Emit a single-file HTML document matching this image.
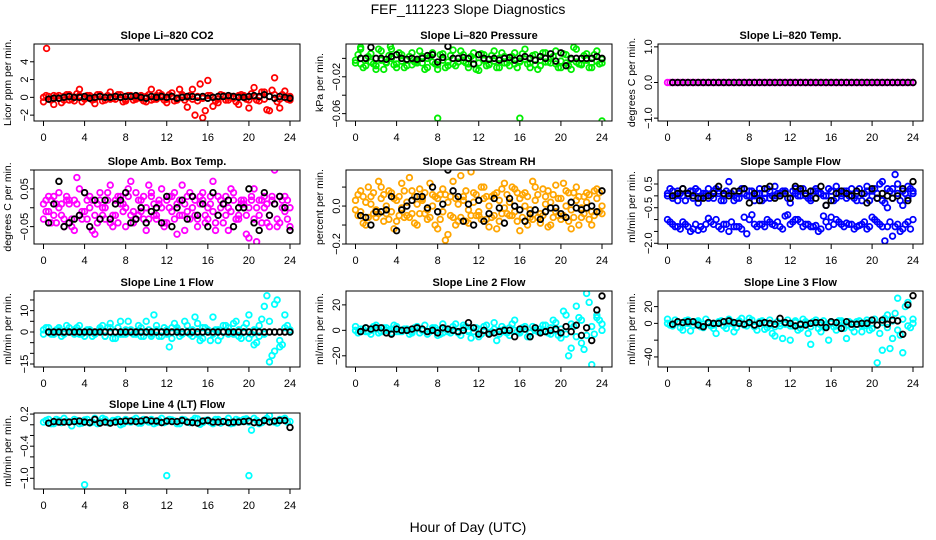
<!DOCTYPE html>
<html><head><meta charset="utf-8"><style>
html,body{margin:0;padding:0;background:#fff;}
svg{display:block;font-family:"Liberation Sans",sans-serif;}
</style></head><body>
<svg id="chart" width="936" height="540" viewBox="0 0 936 540" xmlns="http://www.w3.org/2000/svg">
<text x="468" y="14" text-anchor="middle" font-size="14">FEF_111223  Slope Diagnostics</text>
<text x="468" y="532" text-anchor="middle" font-size="14">Hour of Day (UTC)</text>
</svg>
<script>
const xTicks=[0,4,8,12,16,20,24];
const co2A=[-0.5,0.1,-0.8,0.2,-0.3,0.3,-0.4,0.9,-0.2,0.2,-0.7,0.1,-0.3,0.6,-0.2,0.3,-0.4,0.1,-0.2,0.2,-0.5,0.9,-0.2,0.3,-0.6,0.5,-0.3,0.2,-1.1,0.9,-0.4,-2.3,1.9,-1.0,-0.6,0.2,-0.3,0.1,-0.8,0.2,-1.2,1.1,-0.4,0.6,-1.5,2.2,-1.2,0.7,-0.3];
const co2B=[0.2,-0.3,0.1,-0.6,0.3,-0.2,0.4,-0.5,0.2,-0.3,0.3,-0.4,0.2,-0.1,0.3,-0.5,0.2,-0.3,0.1,-0.4,0.3,-0.2,0.5,-0.3,0.3,-0.4,0.9,-0.3,0.2,-2.0,1.5,-1.5,0.2,-0.4,0.3,-0.3,0.1,-0.5,0.3,-0.2,0.4,-0.3,0.6,-1.4,0.8,-0.5,0.3,-0.2];
const co2C=[0,-0.2,0.2,-0.1,0.1,-0.3,0,0.2,-0.1,0.1,-0.2,0.3,0,-0.2,0.1,0,-0.2,0.2,0,-0.1,0.1,-0.3,0.2,0,-0.2,0.1,-0.1,0.3,0,-0.2,0.1,-0.1,0.2,0,-0.2,0.1,0,-0.1,0.2,0,-0.3,0.1,0,-0.2,0.1,0.3,-0.2,0,0.1];
const co2Out=[[0.3,5.5]];
const co2Black=[-0.2,-0.1,-0.1,0,0.1,0,0,0.1,-0.1,0,0.1,0,0,0.1,0,0.1,0.1,0.2,0,-0.1,0.1,0,0.1,0,0.1,-0.1,0,0.1,0.1,0,0.1,-0.1,0,0.1,0.1,0.2,0.1,0,0,0.1,0.2,0.1,0.3,0.1,-0.1,0.1,0,-0.1];
const presA=[-0.005,0.01,-0.008,0.005,-0.012,0.008,-0.004,0.01,-0.01,0.004,-0.008,0.006,-0.005,0.002,-0.01,0.006,-0.012,0.005,-0.008,0.009,-0.004,0.004,-0.01,0.006,-0.013,0.004,-0.006,0.008,-0.01,0.002,-0.008,0.006,-0.004,0.01,-0.01,0.004,-0.008,0.006,-0.005,0.008,-0.01,0.004,-0.012,0.01,-0.006,0.005,-0.01,0.008,-0.005];
const presB=[0.004,-0.01,0.002,-0.006,0.01,-0.012,0.003,-0.007,0.006,-0.01,0.002,-0.004,0.008,-0.012,0.002,-0.006,0.004,-0.01,0.003,-0.008,0.008,-0.005,0.002,-0.012,0.005,-0.008,0.003,-0.01,0.006,-0.005,0.002,-0.01,0.005,-0.006,0.003,-0.012,0.006,-0.004,0.002,-0.01,0.005,-0.008,0.012,-0.006,0.003,-0.01,0.004,-0.006];
const presC=[-0.002,-0.006,0,-0.004,-0.008,-0.002,-0.005,0,-0.006,-0.003,-0.001,-0.007,-0.003,-0.005,0,-0.004,-0.007,-0.002,-0.004,-0.006,0,-0.003,-0.006,-0.001,-0.005,-0.002,-0.007,-0.003,0,-0.005,-0.002,-0.006,-0.003,-0.001,-0.005,-0.007,-0.002,-0.004,0,-0.006,-0.003,-0.005,-0.001,-0.004,-0.007,-0.002,-0.005,-0.003,-0.001];
const presOut=[[8,-0.065],[16,-0.065],[24,-0.068],[0.5,0.012],[3.4,0.013]];
const presBlack=[0,0,0.012,0,0,-0.001,0.002,0.004,0,-0.001,0,-0.001,0,0.003,0.004,-0.004,0.001,0.013,0,0,0.001,0,-0.006,0.004,0,-0.001,0,-0.002,0,0.001,-0.002,0,0.002,0,-0.002,0.002,0,0.005,-0.003,0.006,-0.008,0,0,0,0,0,0.002,0];
const tempA=[0,0,0,0,0,0,0,0,0,0,0,0,0,0,0,0,0,0,0,0,0,0,0,0,0,0,0,0,0,0,0,0,0,0,0,0,0,0,0,0,0,0,0,0,0,0,0,0,0];
const tempB=[0,0,0,0,0,0,0,0,0,0,0,0,0,0,0,0,0,0,0,0,0,0,0,0,0,0,0,0,0,0,0,0,0,0,0,0,0,0,0,0,0,0,0,0,0,0,0,0];
const tempBlack=[0,0,0,0,0,0,0,0,0,0,0,0,0,0,0,0,0,0,0,0,0,0,0,0,0,0,0,0,0,0,0,0,0,0,0,0,0,0,0,0,0,0,0,0,0,0,0,0];
const ambA=[-0.03,0.03,-0.02,0.04,-0.05,0.02,-0.06,0.05,-0.01,0.03,-0.07,0.04,-0.03,0.06,-0.02,0.01,-0.05,0.07,-0.03,0.02,-0.06,0.04,-0.02,0.05,-0.04,0.03,-0.07,0.06,-0.01,0.03,-0.05,0.04,-0.03,0.07,-0.02,0.01,-0.06,0.04,-0.03,0.02,-0.08,0.05,-0.02,0.03,-0.05,0.1,-0.04,0.03,-0.05];
const ambB=[0.02,-0.04,0.01,-0.02,0.03,-0.05,0.08,-0.03,0.02,-0.06,0.01,-0.02,0.04,-0.05,0.03,-0.01,0.05,-0.04,0.02,-0.03,0.06,-0.02,0.01,-0.05,0.03,-0.03,0.02,-0.06,0.04,-0.02,0.01,-0.04,0.03,-0.06,0.02,-0.02,0.05,-0.03,0.01,-0.07,0.03,-0.09,0.02,-0.04,0.03,-0.05,0.02,-0.03];
const ambC=[0.01,-0.01,0.03,0,-0.03,0.01,0.02,-0.02,0.04,0,-0.02,0.02,0,-0.04,0.02,0.03,0,-0.02,0.04,-0.01,0,0.03,-0.03,0,0.02,-0.01,0.01,-0.02,0.03,0,-0.03,0.02,0,-0.01,0.03,-0.04,0,0.02,-0.02,0.01,0,-0.03,0.02,0,-0.02,0.01,0.03,-0.01,0];
const ambD=[-0.01,0.02,-0.04,0.01,0.02,-0.03,0.01,-0.01,-0.03,0.02,-0.04,0,0.02,-0.02,-0.04,0.01,0.03,-0.01,-0.02,0.03,-0.03,0.01,0.02,-0.04,0,0.04,-0.02,0.01,-0.03,0.02,0.03,-0.02,0.01,-0.04,0,0.03,-0.01,-0.03,0.02,-0.02,0.02,0,-0.04,0.01,0.02,-0.03,0,0.02];
const ambBlack=[-0.04,0.01,0.07,-0.05,-0.04,-0.03,-0.02,0.04,-0.05,0.02,-0.03,0.02,-0.03,0.01,0.02,0.04,-0.04,-0.03,0,-0.04,-0.01,0,-0.04,0.03,-0.05,0,0.02,-0.03,0.03,-0.02,0.01,-0.05,0.04,-0.02,0.01,0.02,-0.05,0,0,0.05,-0.04,-0.06,0.04,-0.02,0.01,0.03,0,-0.06];
const rhA=[-0.02,0.08,-0.1,0.05,-0.06,0.1,-0.04,0.07,-0.08,0.12,-0.05,0.08,-0.1,0.04,-0.07,0.06,-0.12,0.09,-0.15,0.13,-0.08,0.03,-0.09,0.07,-0.05,0.1,-0.11,0.06,-0.08,0.12,-0.05,0.09,-0.13,0.07,-0.06,0.1,-0.09,0.05,-0.1,0.11,-0.07,0.08,-0.12,0.1,-0.06,0.07,-0.1,0.09,-0.04];
const rhB=[0.06,-0.09,0.1,-0.04,0.13,-0.08,0.08,-0.12,0.05,-0.06,0.15,-0.09,0.09,-0.04,0.12,-0.1,0.06,-0.18,0.05,-0.1,0.16,-0.08,0.18,-0.05,0.1,-0.07,0.05,-0.12,0.09,-0.04,0.1,-0.08,0.06,-0.1,0.13,-0.06,0.09,-0.11,0.06,-0.05,0.12,-0.08,0.07,-0.1,0.05,-0.07,0.08,-0.03];
const rhC=[0.03,-0.03,0.02,0.01,-0.02,0.04,0,-0.03,0.03,-0.01,0.02,-0.04,0.01,0.03,-0.02,0,0.04,-0.03,0.02,-0.06,0.01,0.05,-0.02,0.02,-0.03,0.04,0,-0.05,0.03,-0.01,0.02,-0.03,0.04,0,-0.02,0.03,-0.04,0.01,0.02,-0.03,0.04,0,-0.02,0.03,-0.01,0.02,-0.03,0.04,0];
const rhD=[-0.05,0.05,-0.06,0.07,-0.04,0.06,-0.07,0.04,-0.05,0.08,-0.06,0.05,-0.04,0.07,-0.06,0.05,-0.07,0.06,-0.05,0.04,-0.06,0.08,-0.05,0.06,-0.07,0.05,-0.06,0.07,-0.04,0.06,-0.05,0.07,-0.06,0.05,-0.07,0.06,-0.05,0.08,-0.06,0.04,-0.05,0.07,-0.06,0.05,-0.04,0.06,-0.05,0.07];
const rhBlack=[-0.05,-0.06,-0.1,-0.03,-0.03,-0.02,0.05,-0.13,-0.02,0,0.03,0.05,0.05,-0.01,0.1,-0.03,0.01,0.19,0.08,0.05,-0.08,0.01,-0.1,0.03,-0.08,-0.04,0.04,-0.01,-0.09,0.04,0,-0.02,-0.08,-0.04,-0.02,-0.07,-0.03,-0.01,-0.01,-0.04,-0.06,0.02,-0.01,-0.02,-0.01,0,-0.03,0.08];
const sfA=[0,0.2,-0.2,0.3,0,0.2,-0.3,0.1,0.3,-0.1,0.2,0,0.6,-0.2,0.1,0.3,0,-0.2,0.3,0.1,-0.1,0.4,0,0.2,-0.3,0.3,0,0.1,-0.2,0.3,0.1,-0.4,0.2,0.4,0,-0.1,0.3,0.1,-0.2,0.4,0.2,-0.1,0.6,-0.5,0.3,0.5,-0.4,0.4,0.1];
const sfB=[0.3,0,0.1,-0.2,0.2,0.3,-0.1,0.1,0,0.3,-0.2,0.2,0.1,-0.1,0.3,0,0.2,0.1,-0.2,0.3,0,0.1,0.2,-0.1,0.2,0,0.3,-0.1,0.2,0.1,0,0.3,-0.2,0.1,0.2,0,-0.1,0.3,0.1,-0.2,0.3,0.5,-0.3,0.2,0.9,-0.2,0.1,0.3];
const sfC=[0.1,-0.1,0.2,0,0.1,-0.1,0.2,0,-0.1,0.2,0.1,-0.2,0.1,0.2,-0.1,0.1,0.2,0,0.1,-0.1,0.2,0,0.1,0.2,-0.1,0.1,0.2,0,-0.1,0.2,0.1,0,0.2,-0.1,0.1,0.2,0,-0.2,0.1,0.2,0,0.1,-0.2,0.3,-0.1,0.1,0.2,-0.1,0.2];
const sfLow=[-1.0,-1.2,-1.3,-1.1,-1.3,-1.4,-1.45,-1.4,-0.95,-1.2,-1.3,-1.2,-1.5,-1.3,-1.3,-0.9,-1.0,-1.2,-1.2,-1.3,-1.1,-1.25,-1.3,-0.85,-1.2,-1.0,-1.1,-1.2,-1.3,-1.25,-1.4,-1.1,-0.9,-1.0,-1.2,-1.15,-1.2,-1.3,-1.2,-1.4,-0.9,-1.1,-1.3,-1.3,-1.7,-1.2,-1.4,-1.1,-1.0];
const sfLow2=[-1.1,-1.3,-1.4,-1.2,-1.5,-1.2,-1.3,-1.2,-1.1,-1.0,-1.4,-1.2,-1.1,-1.3,-1.4,-1.6,-0.8,-1.3,-1.2,-1.0,-1.2,-1.1,-1.4,-0.8,-1.1,-1.0,-1.3,-1.2,-1.3,-1.5,-0.85,-1.3,-1.2,-1.1,-1.3,-1.2,-1.4,-1.25,-1.1,-1.3,-1.0,-1.2,-1.9,-1.1,-1.3,-1.5,-1.2,-1.4];
const sfBlack=[0,0.1,0.3,0.1,0,-0.1,-0.1,0,0.1,0.4,0.1,0,0.2,0.2,0.3,-0.3,0.1,-0.2,0.3,0.4,-0.1,0,0.1,-0.1,0.4,0.3,0.1,0.2,-0.1,0.4,-0.4,-0.2,0.1,0.2,0.1,0,0.2,0.1,-0.3,0.3,-0.1,0.1,0,-0.1,0,0.3,-0.2,0.6];
const l1A=[-1,2,-1,2,0,2,-1,3,-2,1,-1,2,-2,4,-3,5,-1,1,0,-2,5,-1,3,-2,1,-3,2,-1,3,-2,4,-3,1,7,-4,3,-1,4,-2,2,8,-6,-2,12,-14,13,-4,8,1];
const l1B=[2,-1,1,-2,3,0,2,-1,1,-2,0,3,2,-3,2,-1,5,-1,3,-2,1,8,-2,2,-7,4,-2,5,-1,7,-4,2,-4,1,-2,3,0,5,-3,4,-1,-5,6,17,-11,15,-6,3];
const l1C=[1,0,-1,1,-1,0,1,-1,0,1,-1,1,-2,2,0,-1,1,0,-1,2,0,-2,1,0,-1,2,1,-1,0,1,-1,2,0,-1,1,0,2,-1,1,0,-3,1,3,-1,5,-9,-7,2,0];
const l1Black=[0,0,0,0,0,0,0,0,0,0,0,0,0,0,0,0,0,0,0,0,0,0,0,0,0,0,0,0,0,0,0,0,0,0,0,0,0,0,0,0,0,0,0,0,0,0,0,0];
const l2A=[3,-1,2,-3,4,-1,2,-2,3,-1,1,-2,3,0,-3,2,-4,5,-1,3,-2,4,-1,2,-5,3,-2,6,-3,1,-4,8,-2,3,-5,2,-1,4,-3,6,-6,12,-14,19,-10,29,-27,10,5];
const l2B=[-2,1,-1,3,-2,2,0,4,-1,1,-3,2,-2,4,-1,2,-3,1,-2,5,-4,3,-6,2,-3,4,-1,-8,3,-2,5,-1,2,-5,3,-1,4,-2,8,-4,15,-20,3,10,-15,22,-3,8];
const l2C=[0,1,-1,0,1,-1,0,1,-1,0,1,-1,2,0,-1,1,0,-2,1,0,-1,2,0,-1,1,0,-2,1,0,-1,2,0,-1,1,-2,0,1,-1,2,0,1,-3,5,-5,8,-4,3,12,0];
const l2Black=[-1,2,1,2,2,-2,-3,1,0,0,1,2,1,-1,0,-2,2,1,0,-1,0,6,2,-3,0,-3,-2,-1,0,0,-5,1,1,-5,2,-2,-1,0,1,-2,3,-1,4,-4,2,-8,16,27];
const l3A=[5,-3,2,-8,4,-2,3,-5,1,-6,2,-3,5,-10,3,-2,6,-4,2,-7,4,-15,-3,1,-20,3,-6,2,-25,4,-10,-3,2,-8,3,-18,-5,2,-10,4,-6,-47,-32,10,-18,30,-35,25,5];
const l3B=[-2,4,-5,3,-9,2,-4,5,-3,-12,3,-6,2,-5,6,-3,4,-8,3,-5,-12,2,-18,4,-3,-8,5,-12,2,-6,3,-20,-4,3,-6,2,-10,3,-3,-8,5,-12,6,-30,12,-14,20,-5];
const l3C=[0,-1,1,-2,0,-3,1,-1,0,-2,1,-3,0,-1,2,-2,0,-3,1,0,-2,-4,0,-1,-3,1,-2,0,-4,1,-2,-1,0,-3,1,-2,0,-1,-3,1,0,-2,1,-5,3,-8,5,-3,0];
const l3Black=[-1,2,1,2,2,-2,-4,1,0,0,2,3,1,0,-1,1,-2,0,1,0,-1,6,1,0,-3,-1,-2,0,1,1,-5,2,1,-6,2,-1,-1,0,0,4,-2,4,-1,4,3,-13,22,33];
const l4A=[0.05,0.1,0.02,0.08,0.12,0.05,0.1,0.02,0.09,0.03,0.12,0.06,0.1,0.04,0.08,0,0.1,0.05,0.12,0.03,0.08,0.1,0.04,0.12,0.06,0.09,0.02,0.1,0.05,0.08,0.11,0.04,0.09,0.02,0.1,0.06,0.12,0.03,0.08,0.1,0.05,0.12,0.02,0.09,0.17,0.05,0.1,0.12,0.06];
const l4B=[0.08,0.02,0.1,0.04,0.07,-0.02,0.08,0.03,0.1,0.05,0.02,0.12,0.04,0.08,0.1,0.02,0.06,0.09,0.03,0.1,0.05,0.02,0.08,0.04,0.1,0.07,0.02,0.09,0.04,0.12,0.01,0.08,0.05,0.1,0.03,0.07,0.02,0.1,0.06,0.11,-0.1,0.08,0.04,0.12,0.06,0.03,0.1,0.05];
const l4Out=[[4,-1.12],[12,-0.95],[20,-0.95]];
const l4Black=[0.03,0.06,0.05,0.05,0.05,0.06,0.07,0.05,0.04,0.1,0.03,0.05,0.03,0.05,0.06,0.07,0.07,0.06,0.07,0.09,0.07,0.07,0.04,0.07,0.06,0.06,0.08,0.05,0.04,0.03,0.07,0.08,0.05,0.05,0.06,0.04,0.05,0.05,0.06,0.07,0.04,0.04,0.08,0.05,0.07,0.08,0.08,-0.05];

const colL=[34,346,658], colR=[300,612,923], rowT=[44,170,291,413], rowB=[121,244,367,489];
const panels=[
 {id:'co2',title:'Slope Li\u2013820 CO2',ylab:'Licor ppm per min.',c:0,r:0,ylim:[-2.66,6.0],yt:[-2,0,2,4],yl:['\u22122','0','2','4'],col:'#ff0000',s:[co2A,co2B,co2C],out:co2Out,blk:co2Black},
 {id:'pressure',title:'Slope Li\u2013820 Pressure',ylab:'kPa per min.',c:1,r:0,ylim:[-0.068,0.0156],yt:[0,-0.02,-0.04,-0.06],yl:['','\u22120.02','','\u22120.06'],col:'#00ee00',s:[presA,presB,presC],out:presOut,blk:presBlack},
 {id:'temp',title:'Slope Li\u2013820 Temp.',ylab:'degrees C per min.',c:2,r:0,ylim:[-1.08,1.08],yt:[-1,0,1],yl:['\u22121.0','0.0','1.0'],col:'#ff00ff',s:[tempA,tempB],out:[],blk:tempBlack},
 {id:'amb-box',title:'Slope Amb. Box Temp.',ylab:'degrees C per min.',c:0,r:1,ylim:[-0.096,0.1],yt:[-0.05,0,0.05,0.1],yl:['\u22120.05','','0.05',''],col:'#ff00ff',s:[ambA,ambB,ambC,ambD],out:[],blk:ambBlack},
 {id:'gas-rh',title:'Slope Gas Stream RH',ylab:'percent per min.',c:1,r:1,ylim:[-0.2,0.19],yt:[-0.2,-0.1,0,0.1],yl:['\u22120.2','','0.0',''],col:'#ffa500',s:[rhA,rhB,rhC,rhD],out:[],blk:rhBlack},
 {id:'sample-flow',title:'Slope Sample Flow',ylab:'ml/min per min.',c:2,r:1,ylim:[-2.03,1.09],yt:[-2,-1.5,-1,-0.5,0,0.5],yl:['\u22122.0','','','\u22120.5','','0.5'],col:'#0000ff',s:[sfA,sfB,sfC,sfLow,sfLow2],out:[],blk:sfBlack},
 {id:'line1',title:'Slope Line 1 Flow',ylab:'ml/min per min.',c:0,r:2,ylim:[-16.4,19.2],yt:[-15,-10,-5,0,5,10,15],yl:['\u221215','','','0','','10',''],col:'#00ffff',s:[l1A,l1B,l1C],out:[],blk:l1Black},
 {id:'line2',title:'Slope Line 2 Flow',ylab:'ml/min per min.',c:1,r:2,ylim:[-28.8,30.9],yt:[-20,0,20],yl:['\u221220','0','20'],col:'#00ffff',s:[l2A,l2B,l2C],out:[],blk:l2Black},
 {id:'line3',title:'Slope Line 3 Flow',ylab:'ml/min per min.',c:2,r:2,ylim:[-52,38.6],yt:[-40,-20,0,20],yl:['\u221240','','0','20'],col:'#00ffff',s:[l3A,l3B,l3C],out:[],blk:l3Black},
 {id:'line4',title:'Slope Line 4 (LT) Flow',ylab:'ml/min per min.',c:0,r:3,ylim:[-1.2,0.22],yt:[-1,-0.8,-0.6,-0.4,-0.2,0,0.2],yl:['\u22121.0','','','\u22120.4','','','0.2'],col:'#00ffff',s:[l4A,l4B],out:l4Out,blk:l4Black}
];
const NS='http://www.w3.org/2000/svg';
const svg=document.getElementById('chart');
function mk(tag,attrs,parent){const e=document.createElementNS(NS,tag);for(const k in attrs)e.setAttribute(k,attrs[k]);parent.appendChild(e);return e;}
panels.forEach(p=>{
  const L=colL[p.c],R=colR[p.c],T=rowT[p.r],B=rowB[p.r];
  const g=mk('g',{},svg);
  
  
  const xs=t=>L+9.5+(t/24)*(R-L-19.5);
  const ys=v=>B-(v-p.ylim[0])/(p.ylim[1]-p.ylim[0])*(B-T);
  const clip=mk('clipPath',{id:'clip-'+p.id},g);
  mk('rect',{x:L,y:T,width:R-L,height:B-T},clip);
  const pts=mk('g',{'clip-path':'url(#clip-'+p.id+')',fill:'none','stroke-width':1.8},g);
  
  
  p.s.forEach((arr,si)=>{
    const n=arr.length;
    const t0=(n===49)?0:0.25;
    arr.forEach((v,i)=>{
      const c=mk('circle',{cx:xs(t0+i*0.5),cy:ys(v),r:2.8,stroke:p.col},pts);
      
      
    });
  });
  p.out.forEach(o=>{
    const c=mk('circle',{cx:xs(o[0]),cy:ys(o[1]),r:2.8,stroke:p.col},pts);
    
    
  });
  p.blk.forEach((v,i)=>{
    const c=mk('circle',{cx:xs(0.5+i*0.5),cy:ys(v),r:2.8,stroke:'#000'},pts);
    
    
  });
  const box=mk('rect',{x:L,y:T,width:R-L,height:B-T,fill:'none',stroke:'#000','stroke-width':1},g);
  
  
  const tt=mk('text',{x:(L+R)/2,y:T-5,'text-anchor':'middle','font-size':11,'font-weight':'bold'},g);
  tt.textContent=p.title;
  
  
  xTicks.forEach(t=>{
    mk('line',{x1:xs(t),x2:xs(t),y1:B,y2:B+5,stroke:'#000'},g);
    const lb=mk('text',{x:xs(t),y:B+20,'text-anchor':'middle','font-size':11},g);
    lb.textContent=String(t);
    
    
  });
  p.yt.forEach((v,i)=>{
    mk('line',{x1:L-4,x2:L,y1:ys(v),y2:ys(v),stroke:'#000'},g);
    if(p.yl[i]){
      const lb=mk('text',{x:0,y:0,'text-anchor':'middle','font-size':11,transform:'translate('+(L-6)+','+ys(v)+') rotate(-90)'},g);
      lb.textContent=p.yl[i];
      
      
    }
  });
  const yl=mk('text',{x:0,y:0,'text-anchor':'middle','font-size':10.5,transform:'translate('+(L-23)+','+((T+B)/2)+') rotate(-90)'},g);
  yl.textContent=p.ylab;
  
  
});
</script>
</body></html>
